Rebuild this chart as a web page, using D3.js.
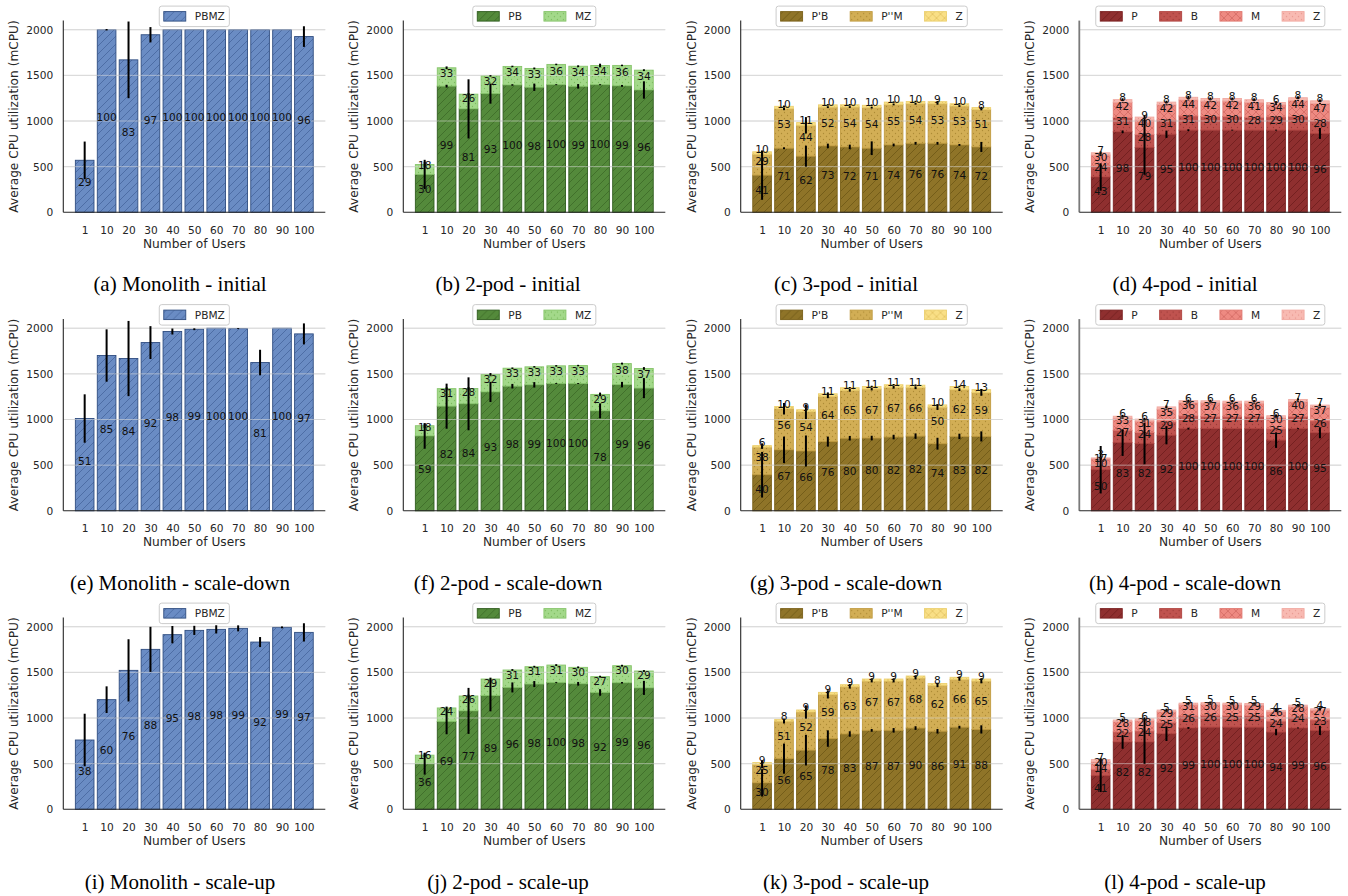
<!DOCTYPE html>
<html><head><meta charset="utf-8">
<script src="https://cdn.jsdelivr.net/npm/d3@7"></script>
<style>body{margin:0;background:#fff} svg{display:block}</style>
</head><body>
<svg id="chart" width="1348" height="896"></svg>
<script>
// ---------- categories / ticks ----------
const users = ["1","10","20","30","40","50","60","70","80","90","100"];
const yTicks = [0, 500, 1000, 1500, 2000];

// ---------- (a) Monolith - initial ----------
const a_PBMZ     = [570, 2000, 1670, 1945, 2000, 2000, 2000, 2000, 2000, 2000, 1925];
const a_PBMZ_err = [205, 8, 420, 84, 0, 0, 0, 0, 0, 0, 113];
const a_PBMZ_pct = [29, 100, 83, 97, 100, 100, 100, 100, 100, 100, 96];

// ---------- (b) 2-pod - initial ----------
const b_PB     = [415, 1382, 1133, 1300, 1395, 1370, 1398, 1380, 1398, 1385, 1340];
const b_MZ     = [108, 201, 161, 195, 203, 206, 222, 220, 210, 224, 217];
const b_PB_err = [160, 15, 324, 110, 8, 40, 5, 25, 5, 10, 95];
const b_MZ_err = [30, 15, 12, 8, 8, 10, 8, 10, 20, 8, 10];
const b_PB_pct = [30, 99, 81, 93, 100, 98, 100, 99, 100, 99, 96];
const b_MZ_pct = [18, 33, 26, 32, 34, 33, 36, 34, 34, 36, 34];

// ---------- (c) 3-pod - initial ----------
const c_PB     = [407, 702, 615, 727, 716, 702, 738, 756, 756, 738, 716];
const c_PM     = [229, 432, 338, 425, 437, 445, 444, 433, 433, 426, 411];
const c_Z      = [27, 27, 30, 25, 25, 25, 25, 25, 23, 25, 20];
const c_PB_err = [270, 10, 115, 25, 25, 75, 15, 15, 15, 10, 55];
const c_PM_err = [20, 15, 90, 10, 10, 10, 10, 10, 10, 10, 10];
const c_Z_err  = [10, 8, 15, 8, 8, 8, 8, 8, 8, 8, 8];
const c_PB_pct = [41, 71, 62, 73, 72, 71, 74, 76, 76, 74, 72];
const c_PM_pct = [29, 53, 44, 52, 54, 54, 55, 54, 53, 53, 51];
const c_Z_pct  = [10, 10, 11, 10, 10, 10, 10, 10, 9, 10, 8];

// ---------- (d) 4-pod - initial ----------
const d_P     = [387, 882, 711, 855, 900, 900, 900, 900, 900, 900, 864];
const d_B     = [120, 155, 140, 155, 155, 150, 150, 140, 145, 150, 140];
const d_M     = [120, 168, 160, 168, 176, 168, 168, 164, 136, 176, 188];
const d_Z     = [25, 29, 32, 29, 29, 29, 29, 29, 22, 29, 29];
const d_P_err = [150, 15, 300, 40, 10, 0, 5, 0, 5, 0, 60];
const d_B_err = [10, 5, 20, 5, 5, 5, 5, 5, 5, 5, 5];
const d_M_err = [10, 5, 15, 5, 5, 5, 5, 5, 5, 5, 5];
const d_Z_err = [15, 15, 15, 15, 15, 10, 10, 15, 15, 15, 15];
const d_P_pct = [43, 98, 79, 95, 100, 100, 100, 100, 100, 100, 96];
const d_B_pct = [24, 31, 28, 31, 31, 30, 30, 28, 29, 30, 28];
const d_M_pct = [30, 42, 40, 42, 44, 42, 42, 41, 34, 44, 47];
const d_Z_pct = [7, 8, 9, 8, 8, 8, 8, 8, 6, 8, 8];

// ---------- (e) Monolith - scale-down ----------
const e_PBMZ     = [1011, 1701, 1668, 1843, 1964, 1989, 2000, 1996, 1624, 2000, 1938];
const e_PBMZ_err = [265, 287, 412, 180, 33, 10, 0, 5, 140, 0, 115];
const e_PBMZ_pct = [51, 85, 84, 92, 98, 99, 100, 100, 81, 100, 97];

// ---------- (f) 2-pod - scale-down ----------
const f_PB     = [820, 1146, 1172, 1302, 1365, 1380, 1395, 1395, 1095, 1382, 1344];
const f_MZ     = [112, 192, 168, 192, 197, 197, 193, 196, 180, 231, 215];
const f_PB_err = [140, 247, 290, 110, 25, 30, 5, 5, 82, 30, 110];
const f_MZ_err = [25, 15, 15, 15, 8, 8, 8, 8, 20, 10, 15];
const f_PB_pct = [59, 82, 84, 93, 98, 99, 100, 100, 78, 99, 96];
const f_MZ_pct = [18, 31, 28, 32, 33, 33, 33, 33, 29, 38, 37];

// ---------- (g) 3-pod - scale-down ----------
const g_PB     = [395, 668, 655, 758, 795, 797, 808, 818, 735, 815, 815];
const g_PM     = [303, 450, 430, 496, 525, 537, 545, 530, 400, 512, 480];
const g_Z      = [16, 25, 22, 28, 28, 28, 28, 28, 25, 35, 32];
const g_PB_err = [250, 145, 170, 55, 25, 25, 25, 30, 65, 30, 55];
const g_PM_err = [20, 63, 80, 20, 15, 15, 15, 15, 30, 15, 35];
const g_Z_err  = [25, 8, 8, 15, 8, 8, 8, 8, 8, 8, 8];
const g_PB_pct = [40, 67, 66, 76, 80, 80, 82, 82, 74, 83, 82];
const g_PM_pct = [38, 56, 54, 64, 65, 67, 67, 66, 50, 62, 59];
const g_Z_pct  = [6, 10, 9, 11, 11, 11, 11, 11, 10, 14, 13];

// ---------- (h) 4-pod - scale-down ----------
const h_P     = [450, 747, 738, 828, 900, 900, 900, 900, 774, 900, 855];
const h_B     = [50, 135, 120, 145, 140, 135, 135, 135, 125, 135, 130];
const h_M     = [68, 132, 124, 140, 144, 148, 144, 144, 120, 160, 148];
const h_Z     = [11, 22, 22, 25, 22, 22, 22, 22, 22, 25, 25];
const h_P_err = [260, 146, 228, 100, 10, 0, 0, 0, 85, 5, 60];
const h_B_err = [5, 5, 5, 5, 5, 5, 5, 5, 5, 5, 5];
const h_M_err = [5, 5, 5, 5, 5, 5, 5, 5, 5, 5, 5];
const h_Z_err = [15, 15, 15, 15, 12, 12, 12, 12, 15, 12, 15];
const h_P_pct = [50, 83, 82, 92, 100, 100, 100, 100, 86, 100, 95];
const h_B_pct = [10, 27, 24, 29, 28, 27, 27, 27, 25, 27, 26];
const h_M_pct = [17, 33, 31, 35, 36, 37, 36, 36, 30, 40, 37];
const h_Z_pct = [3, 6, 6, 7, 6, 6, 6, 6, 6, 7, 7];

// ---------- (i) Monolith - scale-up ----------
const i_PBMZ     = [759, 1201, 1522, 1752, 1913, 1960, 1971, 1982, 1832, 1993, 1938];
const i_PBMZ_err = [288, 146, 341, 247, 95, 50, 45, 33, 55, 10, 100];
const i_PBMZ_pct = [38, 60, 76, 88, 95, 98, 98, 99, 92, 99, 97];

// ---------- (j) 2-pod - scale-up ----------
const j_PB     = [500, 962, 1078, 1246, 1335, 1372, 1390, 1375, 1280, 1386, 1330];
const j_MZ     = [93, 148, 163, 181, 191, 190, 190, 180, 173, 187, 185];
const j_PB_err = [120, 140, 252, 173, 55, 33, 5, 20, 36, 8, 77];
const j_MZ_err = [20, 15, 15, 15, 10, 10, 10, 10, 10, 10, 10];
const j_PB_pct = [36, 69, 77, 89, 96, 98, 100, 98, 92, 99, 96];
const j_MZ_pct = [16, 24, 26, 29, 31, 31, 31, 30, 27, 30, 29];

// ---------- (k) 3-pod - scale-up ----------
const k_PB     = [290, 555, 648, 775, 825, 865, 865, 890, 855, 900, 875];
const k_PM     = [200, 410, 418, 484, 518, 540, 540, 548, 503, 524, 530];
const k_Z      = [22, 20, 22, 22, 22, 22, 22, 22, 20, 22, 22];
const k_PB_err = [150, 165, 168, 90, 30, 15, 25, 20, 25, 15, 45];
const k_PM_err = [40, 25, 73, 45, 20, 15, 15, 15, 20, 15, 25];
const k_Z_err  = [20, 8, 15, 8, 8, 8, 8, 8, 8, 8, 8];
const k_PB_pct = [30, 56, 65, 78, 83, 87, 87, 90, 86, 91, 88];
const k_PM_pct = [25, 51, 52, 59, 63, 67, 67, 68, 62, 66, 65];
const k_Z_pct  = [9, 8, 9, 9, 9, 9, 9, 9, 8, 9, 9];

// ---------- (l) 4-pod - scale-up ----------
const l_P     = [369, 738, 738, 828, 891, 900, 900, 900, 846, 891, 864];
const l_B     = [70, 110, 120, 125, 130, 130, 125, 125, 120, 120, 115];
const l_M     = [80, 112, 112, 116, 124, 120, 120, 116, 104, 112, 108];
const l_Z     = [25, 18, 22, 18, 18, 18, 18, 18, 14, 18, 14];
const l_P_err = [180, 75, 240, 80, 10, 0, 0, 0, 35, 5, 50];
const l_B_err = [5, 5, 5, 5, 5, 5, 5, 5, 5, 5, 5];
const l_M_err = [5, 5, 5, 5, 5, 5, 5, 5, 5, 5, 5];
const l_Z_err = [15, 15, 15, 15, 12, 12, 12, 12, 15, 12, 15];
const l_P_pct = [41, 82, 82, 92, 99, 100, 100, 100, 94, 99, 96];
const l_B_pct = [14, 22, 24, 25, 26, 26, 25, 25, 24, 24, 23];
const l_M_pct = [20, 28, 28, 29, 31, 30, 30, 29, 26, 28, 27];
const l_Z_pct = [7, 5, 6, 5, 5, 5, 5, 5, 4, 5, 4];

const captions = [
  "(a) Monolith - initial", "(b) 2-pod - initial", "(c) 3-pod - initial", "(d) 4-pod - initial",
  "(e) Monolith - scale-down", "(f) 2-pod - scale-down", "(g) 3-pod - scale-down", "(h) 4-pod - scale-down",
  "(i) Monolith - scale-up", "(j) 2-pod - scale-up", "(k) 3-pod - scale-up", "(l) 4-pod - scale-up"
];

// ---------- styles ----------
const STY = {
  mono:  {fill:"#6a8cc4", hc:"#4a6aa2", edge:"#2f4d80", hatch:"diag"},
  g2PB:  {fill:"#548a3b", hc:"#3e6d29", edge:"#2f5c1e", hatch:"diag"},
  g2MZ:  {fill:"#a3d98a", hc:"#7cbb5e", edge:"#86c46a", hatch:"dots"},
  o3PB:  {fill:"#8f7428", hc:"#705a17", edge:"#7a6018", hatch:"diag"},
  o3PM:  {fill:"#d2ae55", hc:"#ad8b35", edge:"#c09b40", hatch:"dots"},
  o3Z:   {fill:"#f9df86", hc:"#e2c362", edge:"#ecd070", hatch:"cross"},
  r4P:   {fill:"#8f2f2f", hc:"#701e1e", edge:"#7a2020", hatch:"diag"},
  r4B:   {fill:"#c0534f", hc:"#9c3a37", edge:"#b04440", hatch:"dots"},
  r4M:   {fill:"#ee8a82", hc:"#d26a62", edge:"#e07870", hatch:"cross"},
  r4Z:   {fill:"#f8bab2", hc:"#e8978f", edge:"#f0a8a0", hatch:"dots"}
};

function mono(v,e,p){ return [{name:"PBMZ", st:"mono", v, e, p}]; }
const panels = [
  mono(a_PBMZ, a_PBMZ_err, a_PBMZ_pct),
  [{name:"PB",st:"g2PB",v:b_PB,e:b_PB_err,p:b_PB_pct},{name:"MZ",st:"g2MZ",v:b_MZ,e:b_MZ_err,p:b_MZ_pct}],
  [{name:"P'B",st:"o3PB",v:c_PB,e:c_PB_err,p:c_PB_pct},{name:"P''M",st:"o3PM",v:c_PM,e:c_PM_err,p:c_PM_pct},{name:"Z",st:"o3Z",v:c_Z,e:c_Z_err,p:c_Z_pct}],
  [{name:"P",st:"r4P",v:d_P,e:d_P_err,p:d_P_pct},{name:"B",st:"r4B",v:d_B,e:d_B_err,p:d_B_pct},{name:"M",st:"r4M",v:d_M,e:d_M_err,p:d_M_pct},{name:"Z",st:"r4Z",v:d_Z,e:d_Z_err,p:d_Z_pct}],
  mono(e_PBMZ, e_PBMZ_err, e_PBMZ_pct),
  [{name:"PB",st:"g2PB",v:f_PB,e:f_PB_err,p:f_PB_pct},{name:"MZ",st:"g2MZ",v:f_MZ,e:f_MZ_err,p:f_MZ_pct}],
  [{name:"P'B",st:"o3PB",v:g_PB,e:g_PB_err,p:g_PB_pct},{name:"P''M",st:"o3PM",v:g_PM,e:g_PM_err,p:g_PM_pct},{name:"Z",st:"o3Z",v:g_Z,e:g_Z_err,p:g_Z_pct}],
  [{name:"P",st:"r4P",v:h_P,e:h_P_err,p:h_P_pct},{name:"B",st:"r4B",v:h_B,e:h_B_err,p:h_B_pct},{name:"M",st:"r4M",v:h_M,e:h_M_err,p:h_M_pct},{name:"Z",st:"r4Z",v:h_Z,e:h_Z_err,p:h_Z_pct}],
  mono(i_PBMZ, i_PBMZ_err, i_PBMZ_pct),
  [{name:"PB",st:"g2PB",v:j_PB,e:j_PB_err,p:j_PB_pct},{name:"MZ",st:"g2MZ",v:j_MZ,e:j_MZ_err,p:j_MZ_pct}],
  [{name:"P'B",st:"o3PB",v:k_PB,e:k_PB_err,p:k_PB_pct},{name:"P''M",st:"o3PM",v:k_PM,e:k_PM_err,p:k_PM_pct},{name:"Z",st:"o3Z",v:k_Z,e:k_Z_err,p:k_Z_pct}],
  [{name:"P",st:"r4P",v:l_P,e:l_P_err,p:l_P_pct},{name:"B",st:"r4B",v:l_B,e:l_B_err,p:l_B_pct},{name:"M",st:"r4M",v:l_M,e:l_M_err,p:l_M_pct},{name:"Z",st:"r4Z",v:l_Z,e:l_Z_err,p:l_Z_pct}]
];

// ---------- layout ----------
const colLeft = [63.3, 403.3, 740.7, 1079.3];
const plotW = 262;
const rowZero = [212.3, 510.8, 809.3];
const plotH = 191.7;
const capX = [180, 508, 846, 1185];
const capY = [291, 590, 889];
const FONT = "DejaVu Sans";
const TXT = "#262626";

const svg = d3.select("#chart");
svg.append("rect").attr("width",1348).attr("height",896).attr("fill","#fff");
const defs = svg.append("defs");

Object.entries(STY).forEach(([k, s]) => {
  const sz = s.hatch === "dots" ? 6 : 8;
  const p = defs.append("pattern").attr("id","pat_"+k)
    .attr("patternUnits","userSpaceOnUse").attr("width",sz).attr("height",sz);
  p.append("rect").attr("width",sz).attr("height",sz).attr("fill",s.fill);
  if (s.hatch === "diag") {
    p.append("path").attr("d",`M0,${sz}L${sz},0M-1,1L1,-1M${sz-1},${sz+1}L${sz+1},${sz-1}`)
      .attr("stroke",s.hc).attr("stroke-width",0.9).attr("fill","none");
  } else if (s.hatch === "cross") {
    p.append("path").attr("d",`M0,${sz}L${sz},0M-1,1L1,-1M${sz-1},${sz+1}L${sz+1},${sz-1}M0,0L${sz},${sz}M-1,${sz-1}L1,${sz+1}M${sz-1},-1L${sz+1},1`)
      .attr("stroke",s.hc).attr("stroke-width",0.8).attr("fill","none");
  } else {
    p.append("circle").attr("cx",1.5).attr("cy",1.5).attr("r",0.65).attr("fill",s.hc);
    p.append("circle").attr("cx",4.5).attr("cy",4.5).attr("r",0.65).attr("fill",s.hc);
  }
});

panels.forEach((series, idx) => {
  const row = Math.floor(idx / 4), col = idx % 4;
  const L = colLeft[col], Z = rowZero[row];
  const x = d3.scaleLinear().domain([-0.975, 10.975]).range([L, L + plotW]);
  const y = d3.scaleLinear().domain([0, 2100]).range([Z, Z - plotH]);
  const g = svg.append("g");
  const bw = x(0.85) - x(0);

  // stacked segments
  const cum = users.map(() => 0);
  const segs = [];
  series.forEach(s => {
    s.v.forEach((v, i) => {
      segs.push({i, b: cum[i], h: v, e: s.e[i], p: s.p[i], st: s.st});
      cum[i] += v;
    });
  });

  // grid behind
  g.selectAll("line.grid").data(yTicks.slice(1)).join("line")
    .attr("x1", L).attr("x2", L + plotW)
    .attr("y1", d => y(d)).attr("y2", d => y(d))
    .attr("stroke", "#d4d4d4").attr("stroke-width", 1);

  // bars
  g.selectAll("rect.bar").data(segs).join("rect")
    .attr("x", d => x(d.i) - bw / 2)
    .attr("y", d => y(d.b + d.h))
    .attr("width", bw)
    .attr("height", d => y(d.b) - y(d.b + d.h))
    .attr("fill", d => `url(#pat_${d.st})`)
    .attr("stroke", d => STY[d.st].edge)
    .attr("stroke-width", 0.9);

  // grid over bars (light)
  g.selectAll("line.grid2").data(yTicks.slice(1)).join("line")
    .attr("x1", L).attr("x2", L + plotW)
    .attr("y1", d => y(d)).attr("y2", d => y(d))
    .attr("stroke", "#dcdcdc").attr("stroke-opacity", 0.55).attr("stroke-width", 1);

  // error bars
  g.selectAll("line.err").data(segs.filter(d => d.e > 0)).join("line")
    .attr("x1", d => x(d.i)).attr("x2", d => x(d.i))
    .attr("y1", d => y(d.b + d.h - d.e)).attr("y2", d => y(d.b + d.h + d.e))
    .attr("stroke", "#000").attr("stroke-width", 2);

  // percentage labels
  g.selectAll("text.lab").data(segs).join("text")
    .attr("x", d => x(d.i)).attr("y", d => y(d.b + d.h / 2))
    .attr("text-anchor", "middle")
    .attr("font-family", FONT).attr("font-size", 10.6).attr("fill", "#111")
    .text(d => d.p);

  // axes
  const ya = g.append("g").attr("transform", `translate(${L},0)`)
    .call(d3.axisLeft(y).tickValues(yTicks).tickFormat(d3.format("d")).tickSize(0).tickPadding(10));
  ya.select(".domain").remove();
  ya.selectAll("text").attr("font-family", FONT).attr("font-size", 10.6).attr("fill", TXT);
  const xa = g.append("g").attr("transform", `translate(0,${Z})`)
    .call(d3.axisBottom(x).tickValues(d3.range(users.length)).tickFormat(i => users[i]).tickSize(0).tickPadding(14));
  xa.select(".domain").remove();
  xa.selectAll("text").attr("font-family", FONT).attr("font-size", 10.6).attr("fill", TXT);

  // spines
  g.append("line").attr("x1", L).attr("x2", L).attr("y1", Z).attr("y2", Z - plotH)
    .attr("stroke", col === 3 ? "#7a7a7a" : "#262626").attr("stroke-width", col === 3 ? 1.8 : 1.1);
  g.append("line").attr("x1", L).attr("x2", L + plotW).attr("y1", Z).attr("y2", Z)
    .attr("stroke", "#262626").attr("stroke-width", 1.1);

  // axis labels
  g.append("text").attr("x", L + plotW / 2).attr("y", Z + 35.5)
    .attr("text-anchor", "middle").attr("font-family", FONT).attr("font-size", 12.2).attr("fill", TXT)
    .text("Number of Users");
  g.append("text").attr("transform", `translate(${L - 45},${Z - plotH / 2}) rotate(-90)`)
    .attr("text-anchor", "middle").attr("font-family", FONT).attr("font-size", 12.2).attr("fill", TXT)
    .text("Average CPU utilization (mCPU)");

  // legend
  const lg = g.append("g");
  const top = Z - plotH - 14.5;
  const box = lg.append("rect");
  let cx = 0;
  const items = [];
  series.forEach((s, k) => {
    const it = lg.append("g");
    it.append("rect").attr("x", 0).attr("y", 5.5).attr("width", 22).attr("height", 9.5)
      .attr("fill", `url(#pat_${s.st})`).attr("stroke", STY[s.st].edge).attr("stroke-width", 0.9);
    const t = it.append("text").attr("x", 31).attr("y", 14.2)
      .attr("font-family", FONT).attr("font-size", 10.6).attr("fill", TXT).text(s.name);
    const w = 31 + t.node().getComputedTextLength();
    items.push({it, off: cx});
    cx += w + 22;
  });
  const contentW = cx - 22;
  const pad = 4.5;
  const boxW = contentW + 2 * pad;
  const bx = L + plotW / 2 - boxW / 2;
  box.attr("x", bx).attr("y", top).attr("width", boxW).attr("height", 20.5)
    .attr("rx", 2.5).attr("fill", "#fff").attr("fill-opacity", 0.85)
    .attr("stroke", "#cccccc").attr("stroke-width", 1);
  items.forEach(o => o.it.attr("transform", `translate(${bx + pad + o.off},${top})`));

  // caption
  svg.append("text").attr("x", capX[col]).attr("y", capY[row])
    .attr("text-anchor", "middle").attr("font-family", "Liberation Serif")
    .attr("font-size", 21).attr("fill", "#000").text(captions[idx]);
});
</script>
</body></html>
